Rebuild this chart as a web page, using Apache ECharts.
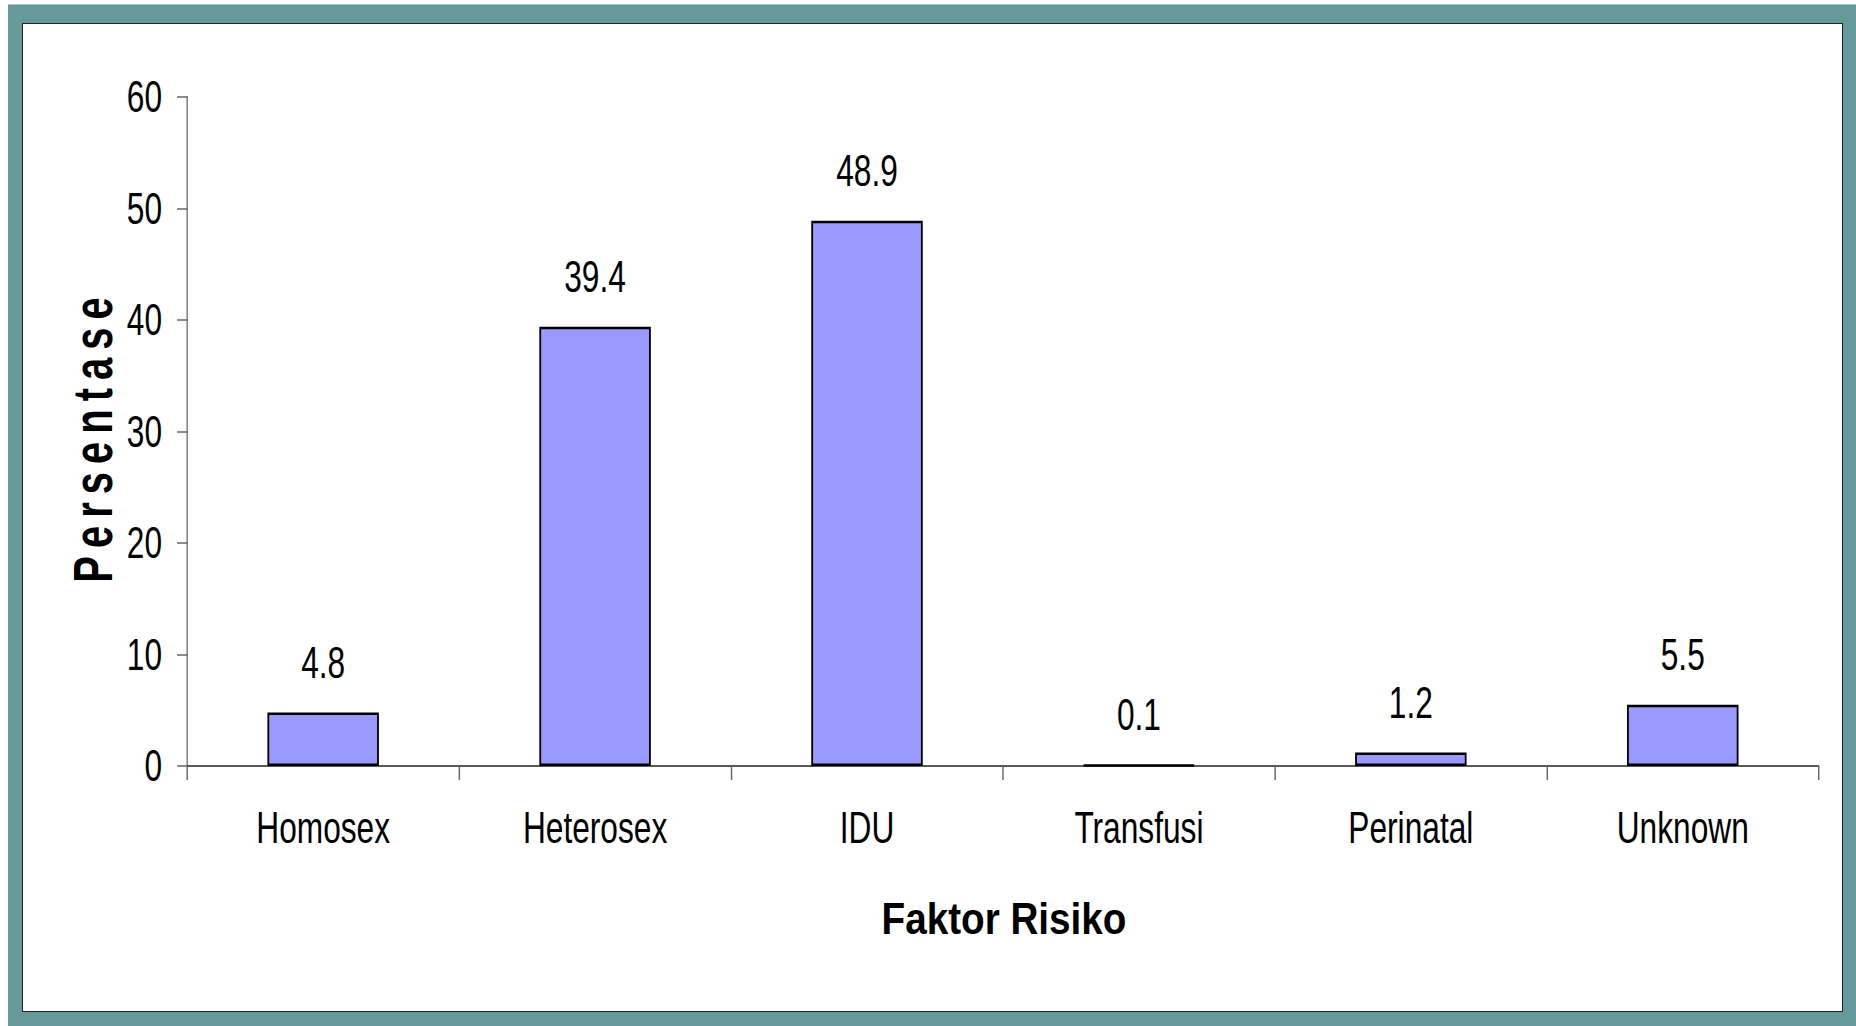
<!DOCTYPE html>
<html>
<head>
<meta charset="utf-8">
<title>Faktor Risiko</title>
<script src="https://cdn.jsdelivr.net/npm/echarts@6/dist/echarts.min.js"></script>
<style>
  html, body { margin: 0; padding: 0; background: #ffffff; overflow: hidden; }
  .frame {
    position: absolute; left: 8px; top: 4px; width: 1848px; height: 1022px;
    background: #669999; border-top: 1px solid #99cccc; box-sizing: border-box;
  }
  .panel {
    position: absolute; left: 22px; top: 23px; width: 1821px; height: 989px;
    background: #ffffff; border: 1px solid #222222; box-sizing: border-box;
  }
  /* no narrow font installed: draw wider and squeeze horizontally to get the tall narrow look */
  #chart {
    position: absolute; left: 0; top: 0; width: 2578px; height: 1026px;
    transform: scaleX(0.72); transform-origin: 0 0;
  }
</style>
</head>
<body>
<div class="frame"></div>
<div class="panel"></div>
<div id="chart"></div>
<script>
// data
const categories = ['Homosex', 'Heterosex', 'IDU', 'Transfusi', 'Perinatal', 'Unknown'];
const percentages = [4.8, 39.4, 48.9, 0.1, 1.2, 5.5];
const yTicks = [0, 10, 20, 30, 40, 50, 60];

const SQUEEZE = 0.72;
const font = "'Liberation Sans', Arial, sans-serif";

const chart = echarts.init(document.getElementById('chart'), null, { renderer: 'svg' });

chart.setOption({
  backgroundColor: 'transparent',
  animation: false,
  grid: { left: 260, right: 52, top: 97, bottom: 260 },
  graphic: [
    {
      // y axis title: spaced letters, tall across the axis
      type: 'text',
      x: 92 / SQUEEZE,
      y: 440,
      rotation: Math.PI / 2,
      scaleY: 1.94,
      style: {
        text: 'Persentase'.split('').join('\u2009'),
        fontFamily: font,
        fontWeight: 'bold',
        fontSize: 40,
        fill: '#000',
        align: 'center',
        verticalAlign: 'middle'
      }
    },
    {
      // x axis title is a wider bold face than the labels
      type: 'text',
      x: 1004 / SQUEEZE,
      y: 919,
      scaleX: 0.879 / SQUEEZE,
      style: {
        text: 'Faktor Risiko',
        fontFamily: font,
        fontWeight: 'bold',
        fontSize: 44,
        fill: '#000',
        align: 'center',
        verticalAlign: 'middle'
      }
    }
  ],
  xAxis: {
    type: 'category',
    data: categories,
    axisLine: { lineStyle: { color: '#222', width: 1.5 } },
    axisTick: { show: true, length: 14, lineStyle: { color: '#666', width: 2 } },
    axisLabel: { fontFamily: font, fontSize: 44, color: '#000', margin: 40, lineHeight: 44 }
  },
  yAxis: {
    type: 'value',
    min: yTicks[0],
    max: yTicks[yTicks.length - 1],
    interval: 10,
    splitLine: { show: false },
    axisLine: { show: true, lineStyle: { color: '#777', width: 2 } },
    axisTick: { show: true, length: 14, lineStyle: { color: '#666', width: 1.5 } },
    axisLabel: { fontFamily: font, fontSize: 44, color: '#000', margin: 35 }
  },
  series: [
    {
      type: 'bar',
      data: percentages,
      barWidth: '41%',
      itemStyle: { color: '#9999ff', borderColor: '#000', borderWidth: 2.5 },
      label: {
        show: true,
        position: 'top',
        distance: 28,
        fontFamily: font,
        fontSize: 44,
        lineHeight: 44,
        color: '#000',
        formatter: p => p.value.toFixed(1)
      }
    }
  ]
});
</script>
</body>
</html>
